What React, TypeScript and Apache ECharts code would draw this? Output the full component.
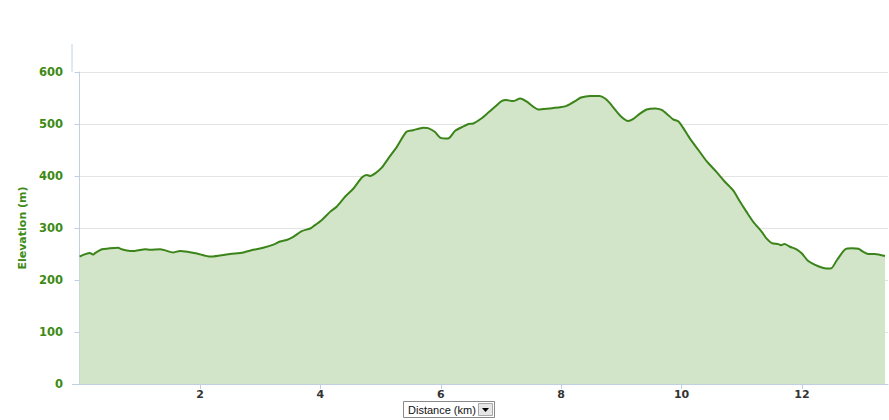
import React, { useEffect, useRef } from "react";
import * as echarts from "echarts";

const distanceKm = [
  0.0, 0.17, 0.23, 0.26, 0.37, 0.5, 0.64, 0.7, 0.84, 0.92, 1.09, 1.17, 1.34, 1.56, 1.67, 1.81, 1.95,
  2.17, 2.33, 2.5, 2.72, 2.89, 3.05, 3.22, 3.33, 3.44, 3.55, 3.69, 3.83, 3.88, 4.02, 4.16, 4.27,
  4.41, 4.55, 4.69, 4.77, 4.83, 4.91, 5.02, 5.13, 5.27, 5.43, 5.54, 5.71, 5.79, 5.9, 5.99, 6.12,
  6.24, 6.37, 6.46, 6.54, 6.68, 6.79, 6.9, 7.01, 7.09, 7.2, 7.32, 7.43, 7.54, 7.62, 7.81, 7.98,
  8.09, 8.26, 8.33, 8.48, 8.64, 8.73, 8.81, 8.9, 9.0, 9.11, 9.2, 9.31, 9.42, 9.56, 9.67, 9.78,
  9.86, 9.95, 10.03, 10.14, 10.28, 10.42, 10.58, 10.72, 10.86, 10.97, 11.08, 11.19, 11.33, 11.41,
  11.5, 11.61, 11.65, 11.71, 11.8, 11.91, 12.0, 12.1, 12.22, 12.33, 12.41, 12.48, 12.58, 12.72,
  12.83, 12.94, 13.02, 13.1, 13.21, 13.38,
];

const elevationM = [
  245, 252, 249, 252, 259, 261, 262, 259, 256, 256, 259, 258, 259, 253, 256, 254, 251,
  245, 247, 250, 253, 258, 262, 268, 274, 277, 283, 294, 299, 303, 315, 331, 341,
  360, 376, 397, 402, 400, 405, 416, 434, 456, 485, 488, 493, 492, 485, 474, 472,
  487, 495, 500, 501, 511, 522, 533, 544, 546, 544, 549, 543, 533, 528, 530, 532,
  535, 546, 551, 554, 554, 549, 540, 527, 514, 506, 510, 520, 528, 530, 527, 517,
  509, 505, 492, 472, 450, 428, 408, 389, 372, 351, 331, 312, 293, 280,
  271, 269, 267, 269, 264, 259, 251, 237, 229, 224, 222, 222, 238, 259,
  261, 260, 254, 250, 250, 246,
];

const yTicks = [0, 100, 200, 300, 400, 500, 600];
const xTicks = [2, 4, 6, 8, 10, 12];

export default function App() {
  const ref = useRef<HTMLDivElement>(null);

  useEffect(() => {
    if (!ref.current) return;
    const chart = echarts.init(ref.current, undefined, { renderer: "svg" });
    const data = distanceKm.map((d, i) => [d, elevationM[i]]);
    const axisColor = "#C0D0E0";
    const green = "#3D8A14";

    chart.setOption({
      animation: false,
      backgroundColor: "#ffffff",
      grid: {
        left: 79.6,
        right: 1,
        top: 72,
        bottom: 36,
        containLabel: false,
        outerBoundsMode: "none",
      },
      xAxis: {
        type: "value",
        min: 0,
        max: 13.43,
        interval: 2,
        axisLine: { show: true, lineStyle: { color: axisColor, width: 1 } },
        axisTick: { show: true, length: 5, lineStyle: { color: axisColor } },
        splitLine: { show: false },
        axisLabel: {
          showMinLabel: false,
          showMaxLabel: false,
          margin: 5,
          color: "#333333",
          fontFamily: "DejaVu Sans",
          fontWeight: "bold",
          fontSize: 11,
          formatter: (v: number) => (xTicks.includes(v) ? String(v) : ""),
        },
      },
      yAxis: {
        type: "value",
        min: yTicks[0],
        max: yTicks[yTicks.length - 1],
        interval: 100,
        offset: 7.6,
        name: "Elevation (m)",
        nameLocation: "middle",
        nameRotate: 90,
        nameGap: 39,
        nameTextStyle: {
          color: green,
          fontFamily: "DejaVu Sans",
          fontWeight: "bold",
          fontSize: 11,
        },
        axisLine: { show: true, lineStyle: { color: axisColor, width: 1 } },
        axisTick: { show: true, length: 5, lineStyle: { color: axisColor } },
        splitLine: { show: true, lineStyle: { color: "#E4E4E4", width: 1 } },
        axisLabel: {
          margin: 9,
          color: green,
          fontFamily: "DejaVu Sans",
          fontWeight: "bold",
          fontSize: 11.5,
        },
      },
      series: [
        {
          type: "line",
          data,
          showSymbol: false,
          smooth: 0.25,
          lineStyle: { color: "#3A8419", width: 2 },
          areaStyle: { color: "#D3E5C9", opacity: 1 },
          z: 3,
        },
      ],
      graphic: [
        {
          type: "line",
          shape: { x1: 72, y1: 44, x2: 72, y2: 72 },
          style: { stroke: axisColor, lineWidth: 1 },
          silent: true,
        },
        {
          type: "line",
          shape: { x1: 72, y1: 384.5, x2: 80, y2: 384.5 },
          style: { stroke: axisColor, lineWidth: 1 },
          silent: true,
        },
        {
          type: "rect",
          shape: { x: 403.5, y: 401.5, width: 91, height: 16 },
          style: { fill: "#ffffff", stroke: "#8a8a8a", lineWidth: 1 },
          silent: true,
        },
        {
          type: "text",
          x: 408,
          y: 409.5,
          style: {
            text: "Distance (km)",
            fill: "#111111",
            fontFamily: "Liberation Sans",
            fontSize: 11,
            verticalAlign: "middle",
            align: "left",
          },
          silent: true,
        },
        {
          type: "rect",
          shape: { x: 478.5, y: 403.5, width: 14, height: 12 },
          style: { fill: "#e6e6e6", stroke: "#a8a8a8", lineWidth: 1 },
          silent: true,
        },
        {
          type: "polygon",
          shape: { points: [[482, 408], [489, 408], [485.5, 412]] },
          style: { fill: "#000000" },
          silent: true,
        },
      ],
    });

    return () => chart.dispose();
  }, []);

  return (
    <div
      ref={ref}
      style={{ position: "fixed", left: 0, top: 0, width: 889, height: 420 }}
    />
  );
}
